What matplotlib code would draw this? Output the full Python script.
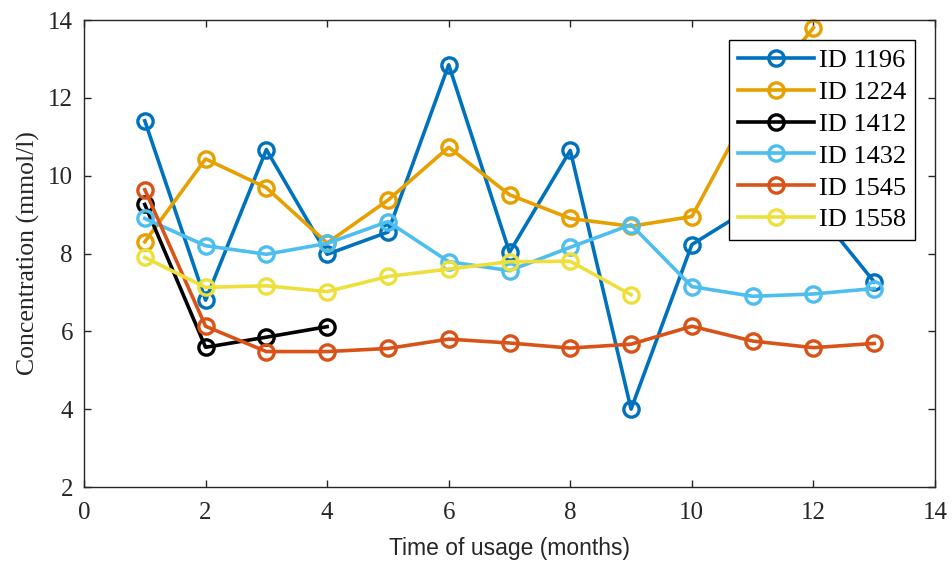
import matplotlib
matplotlib.use("Agg")
import matplotlib.pyplot as plt
import numpy as np

months_long = [1, 2, 3, 4, 5, 6, 7, 8, 9, 10, 11, 12, 13]
id1196 = [11.41, 6.80, 10.67, 7.98, 8.55, 12.85, 8.03, 10.65, 4.00, 8.23, 9.20, 9.20, 7.27]
id1224_x = [1, 2, 3, 4, 5, 6, 7, 8, 9, 10, 11, 12]
id1224 = [8.30, 10.43, 9.69, 8.27, 9.37, 10.73, 9.51, 8.90, 8.70, 8.95, 11.85, 13.80]
id1412_x = [1, 2, 3, 4]
id1412 = [9.26, 5.59, 5.85, 6.12]
id1432 = [8.90, 8.20, 7.98, 8.26, 8.82, 7.79, 7.56, 8.16, 8.74, 7.15, 6.90, 6.96, 7.10]
id1545 = [9.64, 6.13, 5.48, 5.48, 5.56, 5.80, 5.70, 5.57, 5.67, 6.13, 5.75, 5.58, 5.69]
id1558_x = [1, 2, 3, 4, 5, 6, 7, 8, 9]
id1558 = [7.90, 7.13, 7.17, 7.02, 7.41, 7.60, 7.79, 7.80, 6.94]

labels = ["ID 1196", "ID 1224", "ID 1412", "ID 1432", "ID 1545", "ID 1558"]
colors = ["#0072BD", "#E6A000", "#000000", "#4DBEEE", "#D95319", "#EDE03C"]

xs = [months_long, id1224_x, id1412_x, months_long, months_long, id1558_x]
ys = [id1196, id1224, id1412, id1432, id1545, id1558]

fig = plt.figure(figsize=(9.52, 5.62), dpi=100)
ax = fig.add_axes([84/952, 1-487/562, (935-84)/952, (487-20)/562])

for x, y, c, lab in zip(xs, ys, colors, labels):
    ax.plot(x, y, color=c, lw=2.6, marker='o', markersize=11, markerfacecolor='none',
            markeredgewidth=2.4, label=lab, clip_on=False)

ax.set_xlim(0, 14)
ax.set_ylim(2, 14)
ax.set_xticks(np.arange(0, 15, 2))
ax.set_yticks(np.arange(2, 15, 2))
axcol = '#262626'
for s in ax.spines.values():
    s.set_color(axcol)
    s.set_linewidth(1.0)
ax.tick_params(direction='in', top=True, right=True, length=5, width=1, colors=axcol,
               labelsize=18)
ax.tick_params(axis='x', pad=11)
ax.tick_params(axis='y', pad=8)
for t in ax.get_xticklabels() + ax.get_yticklabels():
    t.set_fontfamily('Liberation Serif')
    t.set_color(axcol)

ax.set_xlabel("Time of usage (months)", fontfamily='Liberation Sans', fontsize=16.5, color=axcol, labelpad=9)
ax.set_ylabel("Concentration (mmol/l)", fontfamily='Liberation Serif', fontsize=18.5, color=axcol, labelpad=6)

leg = ax.legend(loc='upper right', bbox_to_anchor=(1 - 20/851, 1 - 20/467),
                prop={'family': 'Liberation Serif', 'size': 19},
                frameon=True, fancybox=False, edgecolor='black', framealpha=1,
                handlelength=2.9, handletextpad=0.2, labelspacing=0.32, borderpad=0.32,
                borderaxespad=0.0)
leg.get_frame().set_linewidth(1.0)

fig.savefig("out.png", dpi=100)
